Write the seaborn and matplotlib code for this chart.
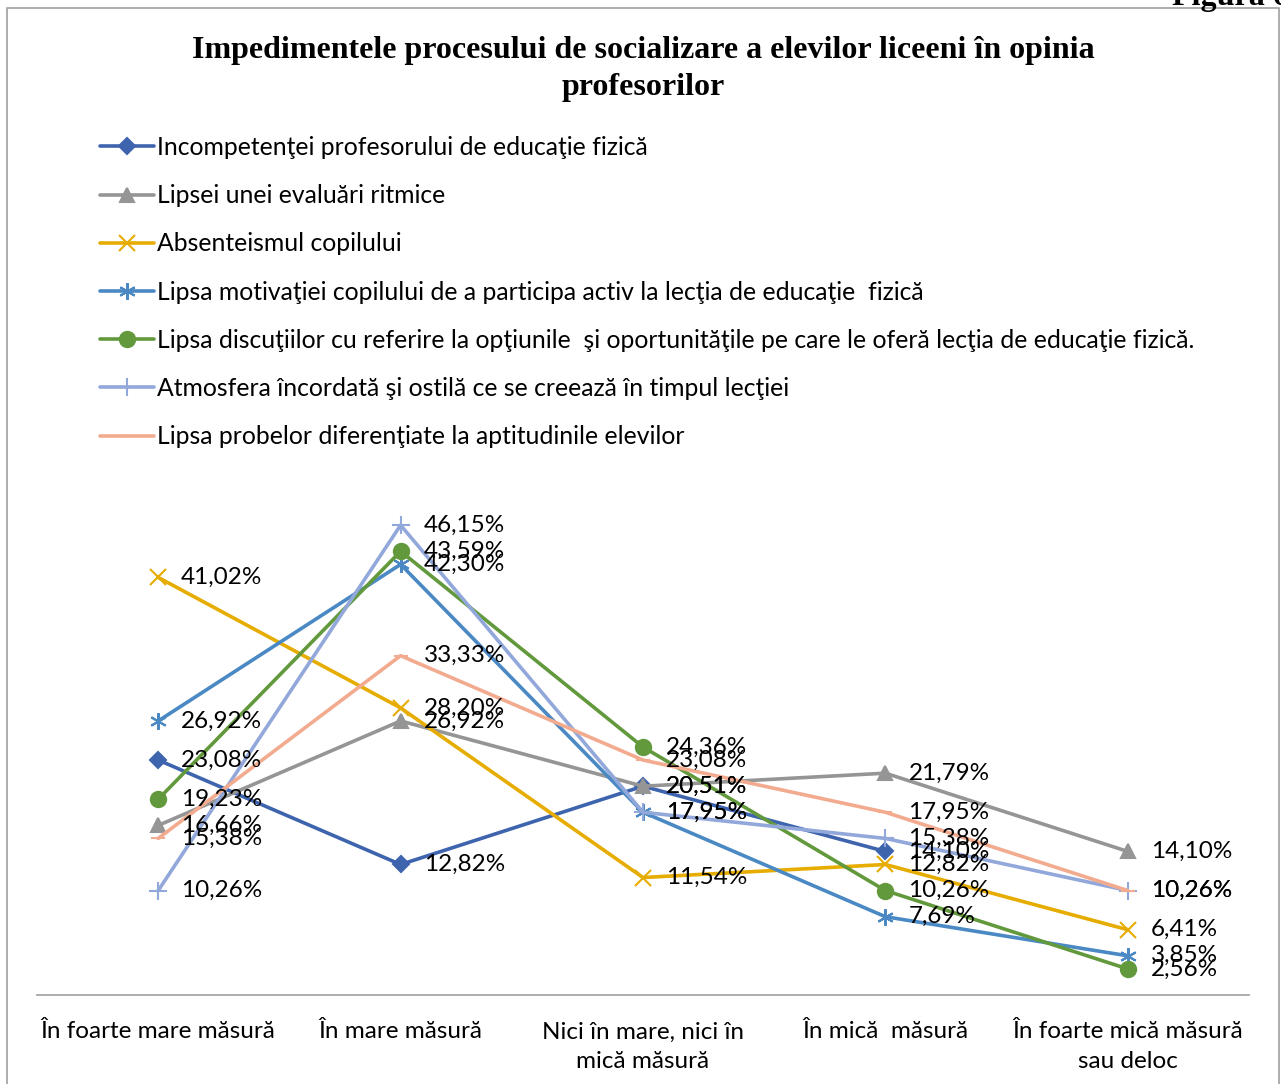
import numpy as np
import pandas as pd
import seaborn as sns
import matplotlib.pyplot as plt
from matplotlib.patches import Rectangle

categories = ["În foarte mare măsură", "În mare măsură", "Nici în mare, nici în\nmică măsură",
              "În mică  măsură", "În foarte mică măsură\nsau deloc"]

series_names = [
    "Incompetenţei profesorului de educaţie fizică",
    "Lipsei unei evaluări ritmice",
    "Absenteismul copilului",
    "Lipsa motivaţiei copilului de a participa activ la lecţia de educaţie  fizică",
    "Lipsa discuţiilor cu referire la opţiunile  şi oportunităţile pe care le oferă lecţia de educaţie fizică.",
    "Atmosfera încordată şi ostilă ce se creează în timpul lecţiei",
    "Lipsa probelor diferenţiate la aptitudinile elevilor",
]

incompetenta = [23.08, 12.82, 20.51, 14.10, np.nan]
evaluare = [16.66, 26.92, 20.51, 21.79, 14.10]
absenteism = [41.02, 28.20, 11.54, 12.82, 6.41]
motivatie = [26.92, 42.30, 17.95, 7.69, 3.85]
discutii = [19.23, 43.59, 24.36, 10.26, 2.56]
atmosfera = [10.26, 46.15, 17.95, 15.38, 10.26]
probe = [15.38, 33.33, 23.08, 17.95, 10.26]

values = [incompetenta, evaluare, absenteism, motivatie, discutii, atmosfera, probe]
colors = ["#3E64AE", "#959595", "#E6AC00", "#4A89C3", "#63993D", "#92A8DA", "#F2AB8F"]
markers = ["D", "^", "x", (6, 2, 0), "o", "+", "_"]
msizes = [8, 10, 11, 12, 11, 13, 10]

sns.set_theme(style="white")
plt.rcParams["font.family"] = ["Lato", "DejaVu Sans"]
plt.rcParams["text.color"] = "black"
plt.rcParams["xtick.color"] = "black"

fig = plt.figure(figsize=(12.81, 10.84), dpi=100)
ax = fig.add_axes([37 / 1281, 89 / 1084, 1212 / 1281, 509 / 1084])

x = np.arange(len(categories))
for name, vals, col, mk, ms in zip(series_names, values, colors, markers, msizes):
    df = pd.DataFrame({"x": x, "y": vals}).dropna()
    sns.lineplot(data=df, x="x", y="y", ax=ax, color=col, marker=mk, markersize=ms,
                 markeredgecolor=col, markerfacecolor=col, markeredgewidth=1.5,
                 linewidth=2.6, label=name, sort=False)
    for xi, yi in zip(df["x"], df["y"]):
        ax.annotate(f"{yi:.2f}%".replace(".", ","), (xi, yi), xytext=(23, 0),
                    textcoords="offset pixels", ha="left", va="center",
                    fontsize=17.5, color="black")

ax.set_xlim(-0.5, 4.5)
ax.set_ylim(0, 50)
ax.set_yticks([])
ax.set_xticks(x)
ax.set_xticklabels(categories, fontsize=17.5, linespacing=1.5, color="black")
ax.tick_params(axis="x", length=0, pad=19)
ax.set_xlabel("")
ax.set_ylabel("")
for s in ["top", "left", "right"]:
    ax.spines[s].set_visible(False)
ax.spines["bottom"].set_color("#A6A6A6")
ax.spines["bottom"].set_linewidth(1.3)
ax.patch.set_alpha(0)

leg = ax.legend(loc="upper left", bbox_to_anchor=(100 / 1281, 1 - 136 / 1084),
                bbox_transform=fig.transFigure, frameon=False, fontsize=17.8,
                handlelength=2.2, handletextpad=0.1, labelspacing=1.02,
                borderpad=0, borderaxespad=0)
for t in leg.get_texts():
    t.set_color("black")

fig.text(643 / 1281, 1 - 69 / 1084,
         "Impedimentele procesului de socializare a elevilor liceeni în opinia\nprofesorilor",
         ha="center", va="center", fontsize=23, fontweight="bold",
         family="Liberation Serif", linespacing=1.35, color="black")
fig.text(1172 / 1281, 1 - 5 / 1084, "Figura 6", ha="left", va="baseline",
         fontsize=23, fontweight="bold", family="Liberation Serif", color="black")

fig.patches.append(Rectangle((7 / 1281, -0.01), 1272 / 1281, 1.01 - 8 / 1084,
                             transform=fig.transFigure, fill=False,
                             edgecolor="#A0A0A0", linewidth=1.2))

fig.savefig("out.png", dpi=100)
